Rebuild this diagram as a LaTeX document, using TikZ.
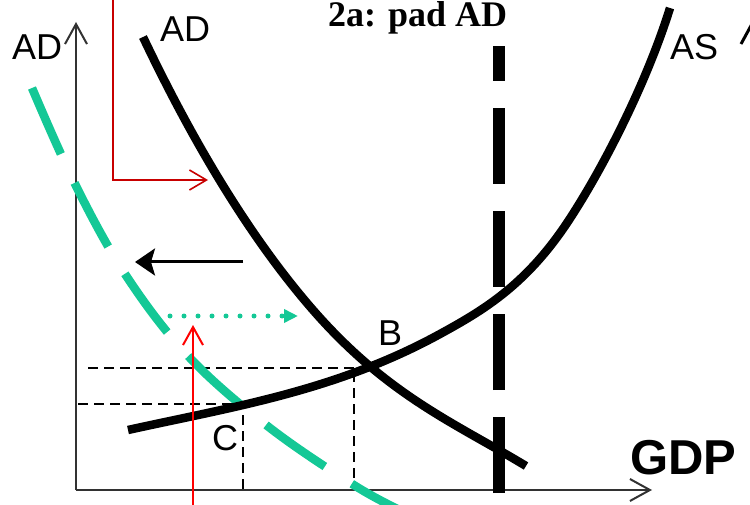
\documentclass[tikz,border=0pt]{standalone}
\usepackage{fontspec}
\setmainfont{Liberation Sans}
\newfontfamily\serifbold{Liberation Serif}
\usetikzlibrary{arrows.meta}
\definecolor{adgreen}{RGB}{20,200,150}
\definecolor{darkred}{RGB}{200,0,0}
\definecolor{axisgray}{RGB}{50,50,50}
\tikzset{
  curve/.style={line width=8.5pt, black},
  axisline/.style={line width=2pt, axisgray, -{Straight Barb[length=20pt,width=22pt]}},
  guide/.style={line width=2pt, dash pattern=on 10pt off 6pt},
  lbl/.style={inner sep=0pt, anchor=base west, font=\fontsize{36}{40}\selectfont},
}
\begin{document}
\begin{tikzpicture}[x=1pt,y=-1pt]
\useasboundingbox (0,0) rectangle (750,505);
\clip (0,0) rectangle (750,505);
% axes
\coordinate (O) at (76,490);
\coordinate (Ytop) at (76,22);
\coordinate (Xend) at (652,490);
\draw[axisline] (O) -- (Ytop);
\draw[axisline] (O) -- (Xend);
% guides
\coordinate (g1) at (88,368); \coordinate (B0) at (362,368);
\coordinate (g2) at (354,372); \coordinate (g3) at (354,490);
\coordinate (g4) at (78,404); \coordinate (C0) at (243,404); \coordinate (g5) at (243,493);
\draw[guide] (g1) -- (B0);
\draw[guide] (g2) -- (g3);
\draw[guide] (g4) -- (C0) -- (g5);
% thick dashed vertical
\coordinate (Vb) at (499,493); \coordinate (Vt) at (499,46);
\draw[line width=12pt, dash pattern=on 76pt off 27pt] (Vb) -- (Vt);
% green AD curve
\draw[adgreen, line width=8.5pt, dash pattern=on 72pt off 32pt] plot[smooth, tension=0.6] coordinates {(32,88) (76,186) (127,277) (190,358) (270,428) (357,487) (410,515)};
% AD curve
\coordinate (ad0) at (143,37); \coordinate (ad1) at (313,310); \coordinate (ad2) at (526,466);
\draw[curve] (ad0) .. controls (200,157) and (258,247) .. (ad1)
  .. controls (388,396) and (455,423) .. (ad2);
% AS curve
\coordinate (as0) at (128,430); \coordinate (as1) at (440,334);
\coordinate (as2) at (567,223); \coordinate (as3) at (670,8);
\draw[curve] (as0) .. controls (232,407) and (336,391) .. (as1)
  .. controls (482,311) and (525,286) .. (as2)
  .. controls (601,172) and (646,85) .. (as3);
% partial stroke at right edge
\coordinate (e1) at (741,44); \coordinate (e2) at (753,22);
\draw[line width=3pt] (e1) -- (e2);
% arrows
\coordinate (ka) at (243,262); \coordinate (kb) at (135,262);
\draw[line width=3pt, -{Stealth[length=20pt,width=27pt,inset=4pt]}] (ka) -- (kb);
\coordinate (da) at (170,316); \coordinate (db) at (298,316);
\draw[adgreen, line width=5pt, line cap=round, dash pattern=on 0pt off 14pt, -{Triangle[length=14pt,width=13pt]}] (da) -- (db);
\coordinate (ra) at (113,-2); \coordinate (rb) at (208,180);
\draw[darkred, line width=1.6pt, -{Straight Barb[length=17pt,width=20pt]}] (ra) |- (rb);
\coordinate (rc) at (193,507); \coordinate (rd) at (193,325);
\draw[red, line width=2pt, -{Straight Barb[length=18pt,width=20pt]}] (rc) -- (rd);
% labels
\node[lbl] (adl) at (12,60) {AD};
\node[lbl] (adt) at (160,42) {AD};
\node[lbl] (as) at (670,60) {AS};
\node[lbl] (b) at (378,345) {B};
\node[lbl] (c) at (212,450) {C};
\node[lbl, font=\fontsize{49}{52}\selectfont\bfseries] (gdp) at (630,474) {GDP};
\node[inner sep=0pt, anchor=base west, font=\serifbold\fontsize{36}{38}\selectfont\bfseries] (title) at (328,27) {2a: pad AD};
\end{tikzpicture}
\end{document}
